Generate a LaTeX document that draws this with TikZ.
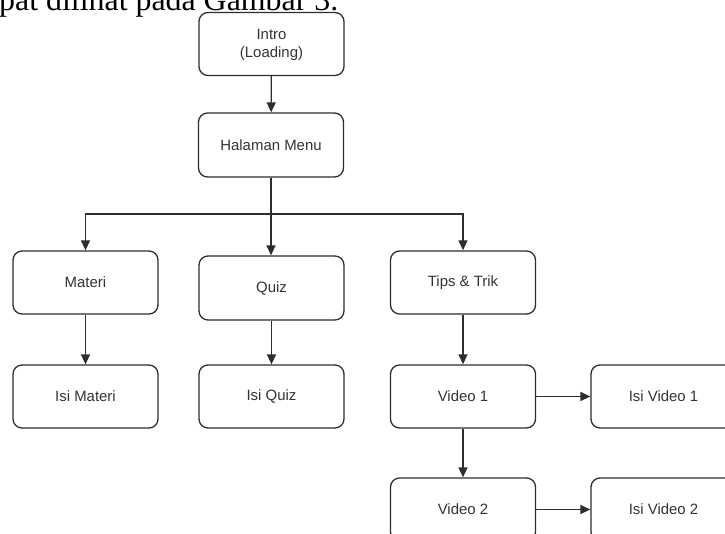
\documentclass[tikz,border=0pt]{standalone}
\usepackage{fontspec}
\setmainfont{Liberation Sans}
\newfontfamily\serifpage{Liberation Serif}
\usetikzlibrary{arrows.meta}
\definecolor{linegray}{HTML}{2E2E2E}
\definecolor{textgray}{HTML}{333333}
\tikzset{
  box/.style={draw=linegray, line width=1.3bp, rounded corners=9bp, rectangle,
    minimum width=145bp, minimum height=63bp, inner sep=0pt, align=center,
    text=textgray, font=\fontsize{15}{18}\selectfont},
  conn/.style={draw=linegray, line width=1.3bp, -{Triangle[length=10bp,width=9bp]}}
}
\begin{document}
\begin{tikzpicture}[x=1bp,y=-1bp]
\useasboundingbox (0,0) rectangle (725,534);
\clip (0,0) rectangle (725,534);
\fill[white] (0,0) rectangle (725,534);
\node[anchor=base west, inner sep=0pt, font=\serifpage\fontsize{32}{36}\selectfont] (pagetext) at (-1,11) {pat dilihat pada Gambar 3.};

\node[box] (intro) at (271.5,44) {\rule{0pt}{13bp}Intro\\(Loading)};
\node[box, minimum height=64bp] (menu) at (271,145) {Halaman Menu};
\node[box] (materi) at (85.5,282.5) {Materi};
\node[box, minimum height=64bp] (quiz) at (271.5,288) {Quiz};
\node[box] (tips) at (463,282.5) {Tips \& Trik};
\node[box] (isimateri) at (85.5,396.5) {Isi Materi};
\node[box] (isiquiz) at (271.5,396.5) {Isi Quiz};
\node[box] (video1) at (463,396.5) {Video 1};
\node[box] (isivideo1) at (663.5,396.5) {Isi Video 1};
\node[box] (video2) at (463,509.5) {Video 2};
\node[box] (isivideo2) at (663.5,509.5) {Isi Video 2};

\coordinate (bus) at (271,214);

\draw[conn] (intro) -- (menu);
\draw[conn] (menu.south) -- (menu.south |- quiz.north);
\draw[conn] (bus) -| (materi.north);
\draw[conn] (bus) -| (tips.north);
\draw[conn] (materi) -- (isimateri);
\draw[conn] (quiz.south) -- (quiz.south |- isiquiz.north);
\draw[conn] (tips) -- (video1);
\draw[conn] (video1) -- (isivideo1);
\draw[conn] (video1) -- (video2);
\draw[conn] (video2) -- (isivideo2);
\end{tikzpicture}
\end{document}
